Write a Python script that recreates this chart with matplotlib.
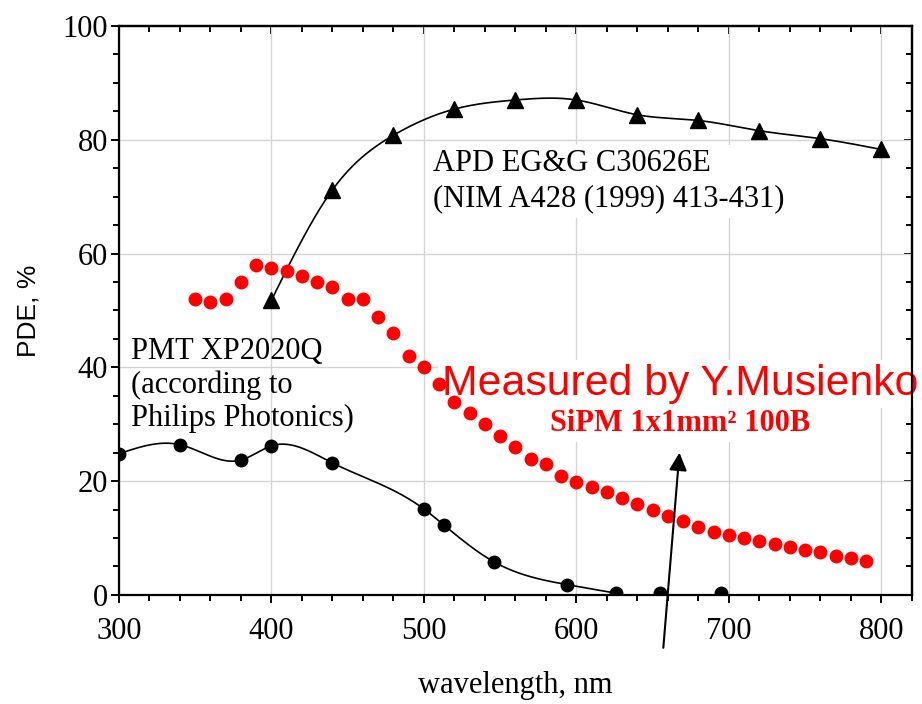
import numpy as np
import matplotlib
matplotlib.use('Agg')
import matplotlib.pyplot as plt
from matplotlib.ticker import MultipleLocator

plt.rcParams['font.family'] = 'Liberation Serif'

# APD EG&G C30626E
apd_wl = [400, 440, 480, 520, 560, 600, 640, 680, 720, 760, 800]
apd_pde = [51.8, 71.2, 80.8, 85.4, 87.0, 87.0, 84.4, 83.4, 81.6, 80.2, 78.3]

# PMT XP2020Q
pmt_wl = [300, 340, 380, 400, 440, 500, 513, 546, 594, 626, 655, 695]
pmt_pde = [24.8, 26.4, 23.7, 26.2, 23.2, 15.1, 12.3, 5.8, 1.8, 0.3, 0.3, 0.3]
pmt_curve_pts = 10   # the fitted curve stops once the PDE reaches zero

# SiPM 1x1mm2 100B
sipm_wl = list(range(350, 800, 10))
sipm_pde = [52.0, 51.5, 52.0, 55.0, 58.0, 57.5, 57.0, 56.1, 55.0, 54.1,
            52.0, 52.0, 48.9, 46.0, 42.0, 40.0, 37.1, 33.9, 32.0, 30.0,
            27.9, 26.0, 23.9, 23.0, 20.9, 19.9, 19.0, 18.0, 17.0, 16.0,
            14.9, 13.9, 13.0, 11.9, 11.1, 10.5, 10.0, 9.5, 8.9, 8.4,
            7.9, 7.6, 6.9, 6.4, 6.0]


def spline_curve(x, y, n=400):
    # natural cubic spline through the measured points
    x = np.asarray(x, float)
    y = np.asarray(y, float)
    h = np.diff(x)
    m = len(x)
    A = np.zeros((m, m))
    r = np.zeros(m)
    A[0, 0] = A[-1, -1] = 1
    for i in range(1, m - 1):
        A[i, i - 1] = h[i - 1]
        A[i, i] = 2 * (h[i - 1] + h[i])
        A[i, i + 1] = h[i]
        r[i] = 6 * ((y[i + 1] - y[i]) / h[i] - (y[i] - y[i - 1]) / h[i - 1])
    M = np.linalg.solve(A, r)
    xs = np.linspace(x[0], x[-1], n)
    k = np.clip(np.searchsorted(x, xs) - 1, 0, m - 2)
    t0 = x[k + 1] - xs
    t1 = xs - x[k]
    ys = ((M[k] * t0**3 + M[k + 1] * t1**3) / (6 * h[k])
          + (y[k] / h[k] - M[k] * h[k] / 6) * t0
          + (y[k + 1] / h[k] - M[k + 1] * h[k] / 6) * t1)
    return xs, ys


fig = plt.figure(figsize=(9.22, 7.04), dpi=100)
ax = fig.add_axes([0.129, 0.155, 0.860, 0.808])

ax.set_xlim(300, 820)
ax.set_ylim(0, 100)
ax.xaxis.set_major_locator(MultipleLocator(100))
ax.xaxis.set_minor_locator(MultipleLocator(20))
ax.yaxis.set_major_locator(MultipleLocator(20))
ax.yaxis.set_minor_locator(MultipleLocator(5))
ax.grid(True, which='major', color='#d4d4d4', lw=1.0, zorder=0)
ax.set_axisbelow(True)

for s in ax.spines.values():
    s.set_linewidth(1.6)
ax.tick_params(which='both', direction='out', width=1.4, labelsize=22,
               top=False, right=False)
ax.tick_params(which='major', length=6)
ax.tick_params(which='minor', length=4.5)
ax.tick_params(axis='x', pad=10)
ax.tick_params(axis='y', pad=2)

# mirrored ticks on top and right point inwards
top = ax.secondary_xaxis('top')
top.xaxis.set_major_locator(MultipleLocator(100))
top.xaxis.set_minor_locator(MultipleLocator(20))
top.tick_params(which='both', direction='in', width=1.4, labeltop=False)
top.tick_params(which='major', length=6)
top.tick_params(which='minor', length=4.5)
right = ax.secondary_yaxis('right')
right.yaxis.set_major_locator(MultipleLocator(20))
right.yaxis.set_minor_locator(MultipleLocator(5))
right.tick_params(which='both', direction='in', width=1.4, labelright=False)
right.tick_params(which='major', length=6)
right.tick_params(which='minor', length=4.5)
for sa in (top, right):
    for s in sa.spines.values():
        s.set_linewidth(1.6)

# APD curve
xs, ys = spline_curve(apd_wl, apd_pde)
ax.plot(xs, ys, color='black', lw=1.2, zorder=3)
ax.plot(apd_wl, apd_pde, '^', color='black', ms=11, zorder=4)

# PMT curve
xs, ys = spline_curve(pmt_wl[:pmt_curve_pts], pmt_pde[:pmt_curve_pts])
ax.plot(xs, ys, color='black', lw=1.2, zorder=3)
ax.plot(pmt_wl, pmt_pde, 'o', color='black', ms=9, zorder=4)

# SiPM points
ax.plot(sipm_wl, sipm_pde, 'o', color='#ff0000', ms=10, mec='none', zorder=4)

ax.set_xlabel('wavelength, nm', fontsize=22, labelpad=18)
ax.set_ylabel('PDE, %', fontsize=19, family='Liberation Sans', labelpad=16)

white = dict(facecolor='white', edgecolor='none', pad=3)
ax.text(506, 72.7, 'APD EG&G C30626E\n(NIM A428 (1999) 413-431)', fontsize=22,
        va='center', ha='left', linespacing=1.3, bbox=white, zorder=2)
ax.text(308, 36.9, 'PMT XP2020Q\n(according to\nPhilips Photonics)', fontsize=22,
        va='center', ha='left', linespacing=1.2, zorder=2)
ax.text(512, 37.1, 'Measured by Y.Musienko', fontsize=30.8, color='#ff0000',
        family='Liberation Sans', va='center', ha='left', bbox=white,
        zorder=2, clip_on=False)
ax.text(583, 30.1, 'SiPM 1x1mm² 100B', fontsize=22, color='#ff0000',
        fontweight='bold', va='center', ha='left', bbox=white, zorder=2)

ax.annotate('', xy=(667.6, 25.0), xytext=(657, -9.3),
            arrowprops=dict(arrowstyle='-|>', color='black', lw=1.5,
                            mutation_scale=27, shrinkA=0, shrinkB=0),
            annotation_clip=False, zorder=5)

fig.savefig('out.png', dpi=100)
